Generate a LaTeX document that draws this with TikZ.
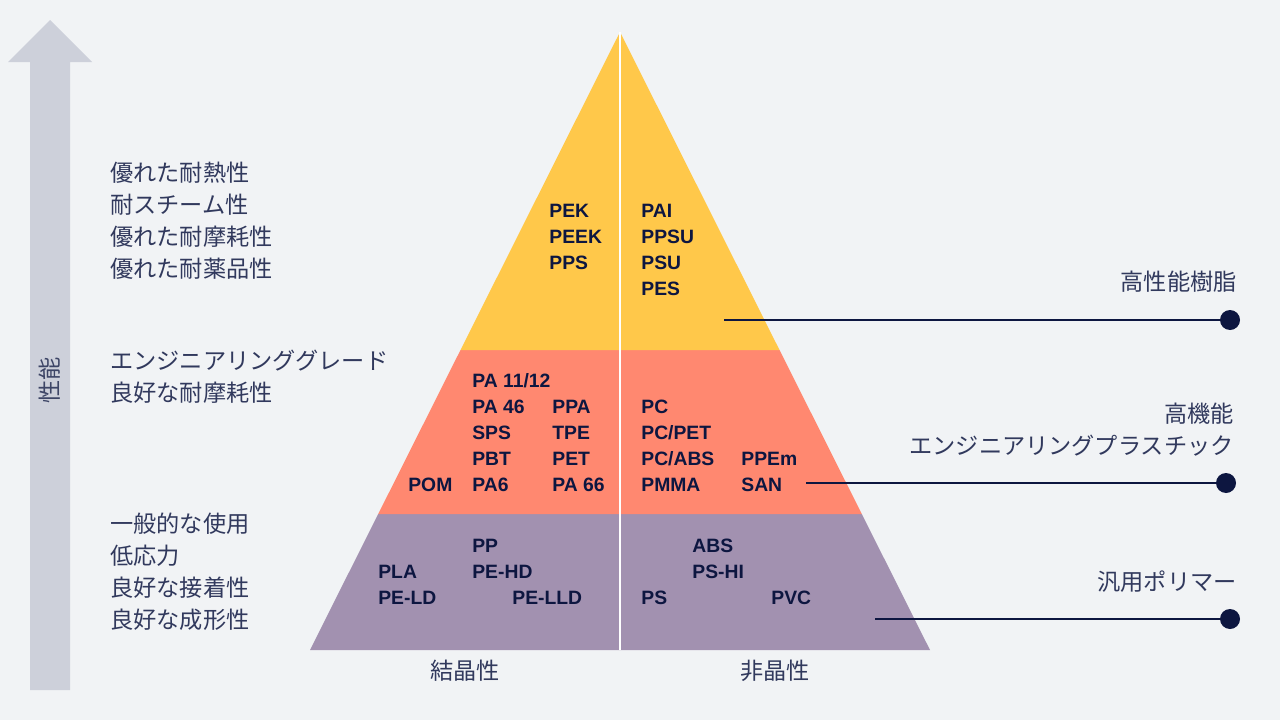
\documentclass[tikz,border=0pt]{standalone}
\usepackage{fontspec}
\setmainfont{Liberation Sans}
\newfontfamily\jpfont{Noto Sans CJK JP}
\usetikzlibrary{positioning}

\definecolor{bgGray}{HTML}{F1F3F5}
\definecolor{arrowGray}{HTML}{CDD0DA}
\definecolor{navy}{HTML}{0D1640}
\definecolor{topYellow}{HTML}{FFC84A}
\definecolor{midSalmon}{HTML}{FF8870}
\definecolor{lowPurple}{HTML}{A291B0}

\tikzset{
  poly/.style={anchor=west, inner sep=0pt, text height=0.7em, text depth=0pt,
    text=navy, font=\fontsize{11}{12}\selectfont\bfseries},
  jptext/.style={inner sep=0pt, text=navy!85!white, font=\jpfont\fontsize{13.2}{18.2}\selectfont},
  leveldot/.style={circle, fill=navy, inner sep=0pt, minimum size=0.4cm},
  levelline/.style={draw=navy, line width=1.2pt}
}

\begin{document}
\begin{tikzpicture}[x=0.02cm, y=-0.02cm]
    % Background
    \fill[bgGray] (0,0) rectangle (1280,720);
    \useasboundingbox (0,0) rectangle (1280,720);

    % Performance arrow on the left
    \fill[arrowGray] (30,690) -- (30,62) -- (8,62) -- (50,20) -- (92,62) -- (70,62) -- (70,690) -- cycle;
    \node[jptext, rotate=90, text=navy!80!white] (perf) at (50,380) {性能};

    % Pyramid sizes
    \def\apexX{620}
    \def\apexY{32}
    \def\baseY{650}
    \def\topY{350}
    \def\midY{514}

    % Three levels of the pyramid
    \fill[lowPurple] (310,\baseY) -- (378.2,\midY) -- (861.8,\midY) -- (930,\baseY) -- cycle;
    \fill[midSalmon] (378.2,\midY) -- (460.5,\topY) -- (779.5,\topY) -- (861.8,\midY) -- cycle;
    \fill[topYellow] (460.5,\topY) -- (\apexX,\apexY) -- (779.5,\topY) -- cycle;

    % Split between crystalline and amorphous
    \draw[white, line width=1.4pt] (\apexX,\apexY) -- (\apexX,\baseY);

    % High performance polymers
    \node[poly] (pek) at (549,211) {PEK};
    \node[poly] (peek) at (549,237) {PEEK};
    \node[poly] (pps) at (549,263) {PPS};
    \node[poly] (pai) at (641,211) {PAI};
    \node[poly] (ppsu) at (641,237) {PPSU};
    \node[poly] (psu) at (641,263) {PSU};
    \node[poly] (pes) at (641,289) {PES};

    % Engineering plastics
    \node[poly] (pa1112) at (472,381) {PA 11/12};
    \node[poly] (pa46) at (472,407) {PA 46};
    \node[poly] (sps) at (472,433) {SPS};
    \node[poly] (pbt) at (472,459) {PBT};
    \node[poly] (pa6) at (472,485) {PA6};
    \node[poly] (pom) at (408,485) {POM};
    \node[poly] (ppa) at (552,407) {PPA};
    \node[poly] (tpe) at (552,433) {TPE};
    \node[poly] (pet) at (552,459) {PET};
    \node[poly] (pa66) at (552,485) {PA 66};
    \node[poly] (pc) at (641,407) {PC};
    \node[poly] (pcpet) at (641,433) {PC/PET};
    \node[poly] (pcabs) at (641,459) {PC/ABS};
    \node[poly] (pmma) at (641,485) {PMMA};
    \node[poly] (ppem) at (741,459) {PPEm};
    \node[poly] (san) at (741,485) {SAN};

    % Commodity polymers
    \node[poly] (pp) at (472,546) {PP};
    \node[poly] (pehd) at (472,572) {PE-HD};
    \node[poly] (pla) at (378,572) {PLA};
    \node[poly] (peld) at (378,598) {PE-LD};
    \node[poly] (pelld) at (512,598) {PE-LLD};
    \node[poly] (abs) at (692,546) {ABS};
    \node[poly] (pshi) at (692,572) {PS-HI};
    \node[poly] (ps) at (641,598) {PS};
    \node[poly] (pvc) at (771,598) {PVC};

    % Labels under the pyramid
    \node[jptext] (crys) at (465,671) {結晶性};
    \node[jptext] (amor) at (775,671) {非晶性};

    % Properties on the left
    \node[jptext, anchor=north west, align=left] (propTop) at (110,162) {優れた耐熱性\\耐スチーム性\\優れた耐摩耗性\\優れた耐薬品性};
    \node[jptext, anchor=north west, align=left] (propMid) at (110,350) {エンジニアリンググレード\\良好な耐摩耗性};
    \node[jptext, anchor=north west, align=left] (propLow) at (110,513) {一般的な使用\\低応力\\良好な接着性\\良好な成形性};

    % Level names on the right
    \node[jptext, anchor=east] (lvlTop) at (1237,282) {高性能樹脂};
    \node[jptext, anchor=east, align=right] (lvlMid) at (1234,430) {高機能\\エンジニアリングプラスチック};
    \node[jptext, anchor=east] (lvlLow) at (1237,582) {汎用ポリマー};

    % Pointer lines with end dots
    \node[leveldot] (dotTop) at (1230,320) {};
    \node[leveldot] (dotMid) at (1226,483) {};
    \node[leveldot] (dotLow) at (1230,619) {};
    \coordinate (startTop) at (724,320);
    \coordinate (startMid) at (806,483);
    \coordinate (startLow) at (875,619);
    \draw[levelline] (startTop) -- (dotTop.center);
    \draw[levelline] (startMid) -- (dotMid.center);
    \draw[levelline] (startLow) -- (dotLow.center);

\end{tikzpicture}
\end{document}
